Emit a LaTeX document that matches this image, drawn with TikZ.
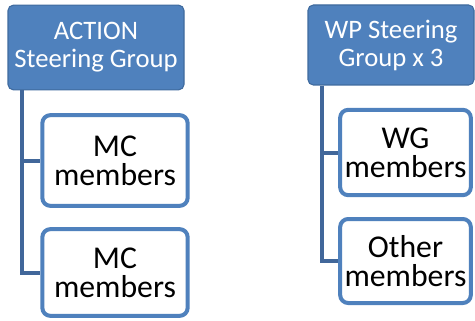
\documentclass[tikz,border=0pt]{standalone}
\usepackage{fontspec}
\setmainfont{Carlito}
\usetikzlibrary{calc}
\definecolor{hdrblue}{HTML}{4F81BD}
\definecolor{hdrline}{HTML}{3F6A9E}
\definecolor{treeblue}{HTML}{41679A}

\begin{document}
\begin{tikzpicture}[x=0.75pt,y=-0.75pt,
	header/.style={draw=hdrline,line width=0.8pt,fill=hdrblue,rounded corners=4pt,text=white,
		align=center,inner sep=0pt,font=\fontsize{20}{21}\selectfont},
	member/.style={draw=hdrblue,line width=3pt,fill=white,rounded corners=6pt,text=black,
		align=center,inner sep=0pt,font=\fontsize{23.8}{21.5}\selectfont},
	tree/.style={draw=treeblue,line width=3pt}]
	\useasboundingbox (0,0) rectangle (475,321);
	% left group
	\draw (96,47.5) node (hdrL) [header,minimum width=132pt,minimum height=63.5pt] {ACTION\\Steering Group};
	\draw (115,160.5) node (mcA) [member,minimum width=109pt,minimum height=68pt] {MC\\members};
	\draw (115,272.5) node (mcB) [member,minimum width=109pt,minimum height=65pt] {MC\\members};
	\coordinate (trunkL) at ($(hdrL.south west)+(15,0)$);
	\draw[tree] (trunkL) |- (mcA.west);
	\draw[tree] (trunkL) |- (mcB.west);
	% right group
	\draw (391,45) node (hdrR) [header,minimum width=124.5pt,minimum height=60pt] {WP Steering\\Group x 3};
	\draw (405.5,152.5) node (wgm) [member,minimum width=98pt,minimum height=64pt] {WG\\members};
	\draw (405.5,261) node (oth) [member,minimum width=98pt,minimum height=63pt] {Other\\members};
	\coordinate (trunkR) at ($(hdrR.south west)+(15,0)$);
	\draw[tree] (trunkR) |- (wgm.west);
	\draw[tree] (trunkR) |- (oth.west);
\end{tikzpicture}
\end{document}
